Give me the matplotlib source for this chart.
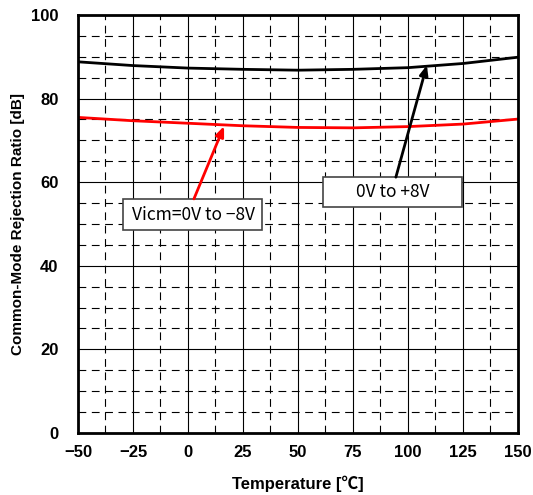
import matplotlib
matplotlib.use("Agg")
import matplotlib.pyplot as plt
from matplotlib.patches import Rectangle
from matplotlib.ticker import MultipleLocator

plt.rcParams['font.family'] = ['Liberation Sans', 'DejaVu Sans']

# data
temp = [-50, -25, 0, 25, 50, 75, 100, 125, 150]
cmrr_pos = [88.8, 87.9, 87.3, 87.0, 86.8, 87.0, 87.4, 88.4, 89.9]   # 0V to +8V
cmrr_neg = [75.5, 74.7, 74.1, 73.5, 73.1, 73.0, 73.3, 73.9, 75.1]   # 0V to -8V

xticks = [-50, -25, 0, 25, 50, 75, 100, 125, 150]
yticks = [0, 20, 40, 60, 80, 100]

fig = plt.figure(figsize=(5.33, 4.95), dpi=100)
ax = fig.add_axes([0.1463, 0.1253, 0.8255, 0.8444])

ax.plot(temp, cmrr_pos, color='black', lw=2, zorder=3)
ax.plot(temp, cmrr_neg, color='red', lw=2, zorder=3)

ax.set_xlim(-50, 150)
ax.set_ylim(0, 100)
ax.set_xticks(xticks)
ax.set_yticks(yticks)
ax.xaxis.set_minor_locator(MultipleLocator(12.5))
ax.yaxis.set_minor_locator(MultipleLocator(5))
ax.grid(which='major', color='black', lw=0.8, ls='-')
ax.grid(which='minor', color='black', lw=0.8, ls=(0, (7, 5)))
ax.tick_params(which='both', length=0)
ax.tick_params(axis='x', pad=9)
ax.tick_params(axis='y', pad=14)
for lbl in ax.get_xticklabels() + ax.get_yticklabels():
    lbl.set_fontweight('bold')
    lbl.set_fontsize(12)
for s in ax.spines.values():
    s.set_linewidth(2)
    s.set_zorder(5)

lab = ['Liberation Sans', 'Noto Sans CJK JP']
ax.set_xlabel('Temperature [℃]', fontsize=12, fontweight='bold', family=lab, labelpad=11)
ax.set_ylabel('Common-Mode Rejection Ratio [dB]', fontsize=11, fontweight='bold', family=lab, labelpad=4)

jp = ['Noto Sans CJK JP', 'DejaVu Sans']
arrow = dict(arrowstyle='-|>,head_length=0.6,head_width=0.25', lw=2, shrinkA=0, shrinkB=0)

# annotation boxes
ax.add_patch(Rectangle((-29.5, 48.6), 63.2, 7.4, fc='white', ec='#444444', lw=1.2, zorder=4))
ax.add_patch(Rectangle((61.4, 54.1), 63.2, 7.1, fc='white', ec='#444444', lw=1.2, zorder=4))
ax.text(2.3, 52.2, 'Vicm=0V to \u22128V', fontsize=12.5, family=jp, ha='center', va='center', zorder=6)
ax.text(93.0, 57.6, '0V to +8V', fontsize=12.5, family=jp, ha='center', va='center', zorder=6)

ax.annotate('', xy=(16.4, 73.4), xytext=(2.7, 56.0),
            arrowprops=dict(arrow, color='red'), zorder=6)
ax.annotate('', xy=(108.6, 88.0), xytext=(94.5, 61.2),
            arrowprops=dict(arrow, color='black'), zorder=6)

fig.savefig('out.png', dpi=100)
